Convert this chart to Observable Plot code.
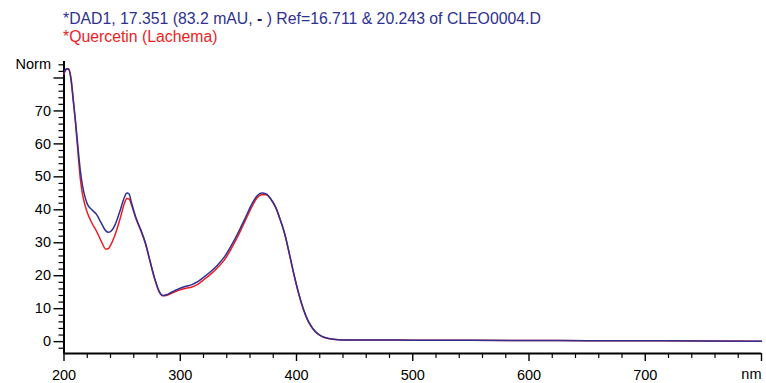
<!DOCTYPE html>
<html>
<head>
<meta charset="utf-8">
<script src="https://cdn.jsdelivr.net/npm/d3@7"></script>
<script src="https://cdn.jsdelivr.net/npm/@observablehq/plot@0.6"></script>
<style>
  html, body { margin: 0; padding: 0; background: #fff; }
  body { width: 766px; height: 383px; overflow: hidden; font-family: "Liberation Sans", Arial, sans-serif; }
  #title { height: 48px; box-sizing: border-box; padding: 10px 0 0 63px; font-size: 15.8px; line-height: 18px; white-space: nowrap; }
  #t1 { color: #2e3192; }
  #t2 { color: #ed1c24; }
  #t1 b { color: #1a1a5a; }
</style>
</head>
<body>
<div id="title">
  <div id="t1">*DAD1, 17.351 (83.2 mAU, <b>-</b> ) Ref=16.711 &amp; 20.243 of CLEO0004.D</div>
  <div id="t2">*Quercetin (Lachema)</div>
</div>
<div id="chart"></div>
<script>
// Wavelength (nm)
const wavelengths = [200, 202, 204, 206, 208, 210, 212, 214, 216, 218, 220, 224, 228, 232, 236, 238, 240, 244, 248, 252, 254, 256, 258, 262, 266, 270, 274, 278, 282, 285, 288, 292, 296, 300, 305, 310, 315, 320, 326, 332, 338, 344, 350, 356, 362, 366, 370, 374, 378, 382, 386, 390, 394, 398, 402, 406, 410, 414, 418, 422, 426, 430, 436, 445, 460, 500, 550, 600, 650, 700, 750, 800];
// *DAD1 spectrum (normalized)
const dad1 = [81.5, 82.8, 82.6, 79.5, 73, 66.5, 59, 52, 47.2, 44, 41.8, 40, 38.6, 36, 33.6, 33.2, 33.4, 35.5, 39.5, 43.8, 45.1, 44.8, 42.2, 37.5, 34, 30, 24.5, 19.2, 15.2, 14.0, 14.2, 14.9, 15.6, 16.2, 16.8, 17.3, 18.2, 19.5, 21.2, 23.2, 25.7, 29.2, 33.2, 37.6, 42, 44.2, 45.1, 44.8, 43.2, 40.8, 37, 32.5, 26.5, 20.2, 14.5, 9.8, 6.3, 4.0, 2.5, 1.6, 1.1, 0.8, 0.6, 0.5, 0.5, 0.45, 0.4, 0.35, 0.3, 0.25, 0.2, 0.1];
// *Quercetin (Lachema) library spectrum (normalized)
const quercetin = [81.2, 82.6, 82.8, 80, 73.5, 66, 57.5, 49.5, 44.5, 41.5, 39.2, 36, 33.5, 30.5, 28.1, 28.2, 29.2, 32.5, 37, 42, 43.4, 43.3, 41.5, 37.2, 33.7, 29.8, 24.3, 19, 15, 13.9, 14.0, 14.6, 15.2, 15.7, 16.2, 16.6, 17.4, 18.7, 20.4, 22.4, 24.8, 28.3, 32.3, 36.8, 41.2, 43.6, 44.6, 44.6, 43.2, 40.8, 37, 32.5, 26.3, 20, 14.4, 9.7, 6.2, 3.9, 2.4, 1.5, 1.0, 0.8, 0.6, 0.5, 0.5, 0.45, 0.4, 0.35, 0.3, 0.25, 0.2, 0.1];

const xDomain = [200, 800];
const yDomain = [-3.6, 85];
const xMajor = [200, 300, 400, 500, 600, 700];
const xMajorNoLabel = [800];
const yMajor = [0, 10, 20, 30, 40, 50, 60, 70];
const yMajorNoLabel = [80];
const xMinor = d3.range(220, 800, 20).filter(v => v % 100 !== 0);
const yMinor = d3.range(-2, 86, 2).filter(v => v % 10 !== 0);
const xUnit = "nm";
const yUnit = "Norm";

const dadData = wavelengths.map((w, i) => ({w, v: dad1[i]}));
const qData = wavelengths.map((w, i) => ({w, v: quercetin[i]}));

const blue = "#2e3192";
const red = "#ed1c24";

const chart = Plot.plot({
  width: 766,
  height: 335,
  marginLeft: 63.5,
  marginRight: 5,
  marginTop: 13,
  marginBottom: 30,
  x: {domain: xDomain, label: null},
  y: {domain: yDomain, label: null},
  style: {fontFamily: "'Liberation Sans', Arial, sans-serif", fontSize: "14px", color: "#000", background: "#fff"},
  marks: [
    Plot.axisY(yMajor, {tickSize: 10, tickPadding: 3, strokeWidth: 1.4, label: null, fontSize: 14.5}),
    Plot.axisY(yMajorNoLabel, {tickSize: 10, tickFormat: () => "", strokeWidth: 1.4, label: null}),
    Plot.axisY(yMinor, {tickSize: 5, tickFormat: () => "", strokeWidth: 1.2, label: null}),
    Plot.axisX(xMajor, {tickSize: 8, tickPadding: 8, strokeWidth: 1.4, label: null, fontSize: 14.5}),
    Plot.axisX(xMajorNoLabel, {tickSize: 8, tickFormat: () => "", strokeWidth: 1.4, label: null}),
    Plot.axisX(xMinor, {tickSize: 5, tickFormat: () => "", strokeWidth: 1.2, label: null}),
    Plot.ruleX([xDomain[0]], {y1: yDomain[0], y2: yDomain[1], stroke: "#000", strokeWidth: 2}),
    Plot.ruleY([yDomain[0]], {x1: xDomain[0], x2: xDomain[1], stroke: "#000", strokeWidth: 2}),
    Plot.text([yUnit], {x: xDomain[0], y: yDomain[1], text: d => d, dx: -13, dy: 3, textAnchor: "end", fontSize: 14.5, fill: "#000"}),
    Plot.text([xUnit], {x: xDomain[1], y: yDomain[0], text: d => d, dy: 21, textAnchor: "end", fontSize: 14.5, fill: "#000"}),
    Plot.line(qData, {x: "w", y: "v", stroke: red, strokeWidth: 1.5, curve: "monotone-x"}),
    Plot.line(dadData, {x: "w", y: "v", stroke: blue, strokeWidth: 1.5, curve: "monotone-x"})
  ]
});
document.getElementById("chart").appendChild(chart);
</script>
</body>
</html>
